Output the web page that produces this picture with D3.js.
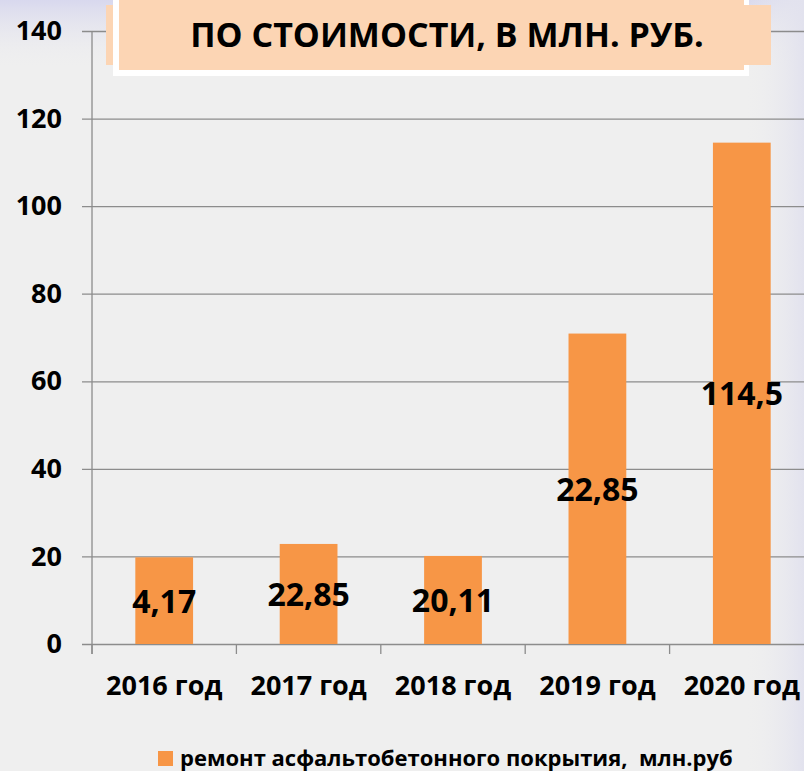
<!DOCTYPE html>
<html>
<head>
<meta charset="utf-8">
<script src="https://cdn.jsdelivr.net/npm/d3@7"></script>
<style>
  body { margin: 0; background: #efefef; }
  svg text { font-family: "Open Sans", "DejaVu Sans", sans-serif; font-weight: bold; fill: #000; white-space: pre; }
</style>
</head>
<body>
<svg id="chart" width="804" height="771"></svg>
<script>
var years = ["2016 год", "2017 год", "2018 год", "2019 год", "2020 год"];
var values = [19.8, 22.85, 20.11, 70.9, 114.5];
var labels = ["4,17", "22,85", "20,11", "22,85", "114,5"];
var yTicks = [0, 20, 40, 60, 80, 100, 120, 140];
var title = "ПО СТОИМОСТИ, В МЛН. РУБ.";
var seriesName = "ремонт асфальтобетонного покрытия,  млн.руб";

var W = 804, H = 771;
var plot = { left: 92, right: 814, top: 31, bottom: 644 };
var orange = "#f79646", grid = "#8c8c8c";

var svg = d3.select("#chart");
var defs = svg.append("defs");

var gTop = defs.append("linearGradient").attr("id", "bgTop")
  .attr("x1", 0).attr("y1", 0).attr("x2", 0).attr("y2", 1);
gTop.append("stop").attr("offset", 0).attr("stop-color", "#d8d8ee");
gTop.append("stop").attr("offset", 1).attr("stop-color", "#efefef").attr("stop-opacity", 0);

var gRight = defs.append("linearGradient").attr("id", "bgRight")
  .attr("x1", 0).attr("y1", 0).attr("x2", 1).attr("y2", 0);
gRight.append("stop").attr("offset", 0).attr("stop-color", "#efefef").attr("stop-opacity", 0);
gRight.append("stop").attr("offset", 1).attr("stop-color", "#e2e2ee");

svg.append("rect").attr("width", W).attr("height", H).attr("fill", "#efefef");
svg.append("rect").attr("width", W).attr("height", 70).attr("fill", "url(#bgTop)");
svg.append("rect").attr("x", W - 60).attr("width", 60).attr("height", H).attr("fill", "url(#bgRight)");

var y = d3.scaleLinear().domain([0, 140]).range([plot.bottom, plot.top]);
var x = d3.scaleBand().domain(years).range([plot.left, plot.right])
  .paddingInner(0.6).paddingOuter(0.3);

// gridlines + y labels
var yAxis = svg.append("g")
  .attr("transform", "translate(" + (plot.left - 10) + ",0)")
  .call(d3.axisLeft(y).tickValues(yTicks).tickSize(-(plot.right - plot.left + 10)).tickPadding(20));
yAxis.select(".domain").remove();
yAxis.selectAll(".tick line").attr("stroke", grid).attr("stroke-width", 1.3);
yAxis.selectAll(".tick text")
  .attr("font-size", 27).attr("font-family", null).attr("fill", "#000");

// y axis line
svg.append("line")
  .attr("x1", plot.left).attr("x2", plot.left)
  .attr("y1", y(140)).attr("y2", y(0) + 10)
  .attr("stroke", grid).attr("stroke-width", 1.3);

// category boundary ticks
var bounds = years.map(function(d) { return x(d) - x.step() * x.paddingOuter(); });
bounds.push(plot.right);
svg.append("g").selectAll("line").data(bounds).join("line")
  .attr("x1", function(d) { return d; }).attr("x2", function(d) { return d; })
  .attr("y1", y(0)).attr("y2", y(0) + 10)
  .attr("stroke", grid).attr("stroke-width", 1.3);

// bars
svg.append("g").selectAll("rect").data(values).join("rect")
  .attr("x", function(d, i) { return x(years[i]); })
  .attr("y", function(d) { return y(d); })
  .attr("width", x.bandwidth())
  .attr("height", function(d) { return y(0) - y(d); })
  .attr("fill", orange);

// data labels
svg.append("g").selectAll("text").data(values).join("text")
  .attr("x", function(d, i) { return x(years[i]) + x.bandwidth() / 2; })
  .attr("y", function(d) { return (y(d) + y(0)) / 2; })
  .attr("dy", "0.38em")
  .attr("text-anchor", "middle")
  .attr("font-size", 32)
  .text(function(d, i) { return labels[i]; });

// x labels
var xAxis = svg.append("g")
  .attr("transform", "translate(0," + plot.bottom + ")")
  .call(d3.axisBottom(x).tickSize(0).tickPadding(32));
xAxis.select(".domain").remove();
xAxis.selectAll(".tick text")
  .attr("font-size", 27).attr("font-family", null).attr("fill", "#000");

// title box
svg.append("rect").attr("x", 106).attr("y", 5).attr("width", 665).attr("height", 60).attr("fill", "#fcd5b4");
svg.append("rect").attr("x", 113).attr("y", -10).attr("width", 636).attr("height", 86).attr("fill", "#fff");
svg.append("rect").attr("x", 119).attr("y", -10).attr("width", 625).attr("height", 80).attr("fill", "#fcd5b4");
svg.append("rect").attr("x", 744).attr("y", 5).attr("width", 27).attr("height", 60).attr("fill", "#fcd5b4");
svg.append("text").attr("x", 447).attr("y", 47).attr("text-anchor", "middle")
  .attr("font-size", 34).text(title);

// legend
svg.append("rect").attr("x", 158).attr("y", 751).attr("width", 15).attr("height", 15).attr("fill", orange);
svg.append("text").attr("x", 180).attr("y", 766).attr("font-size", 22).text(seriesName);
</script>
</body>
</html>
